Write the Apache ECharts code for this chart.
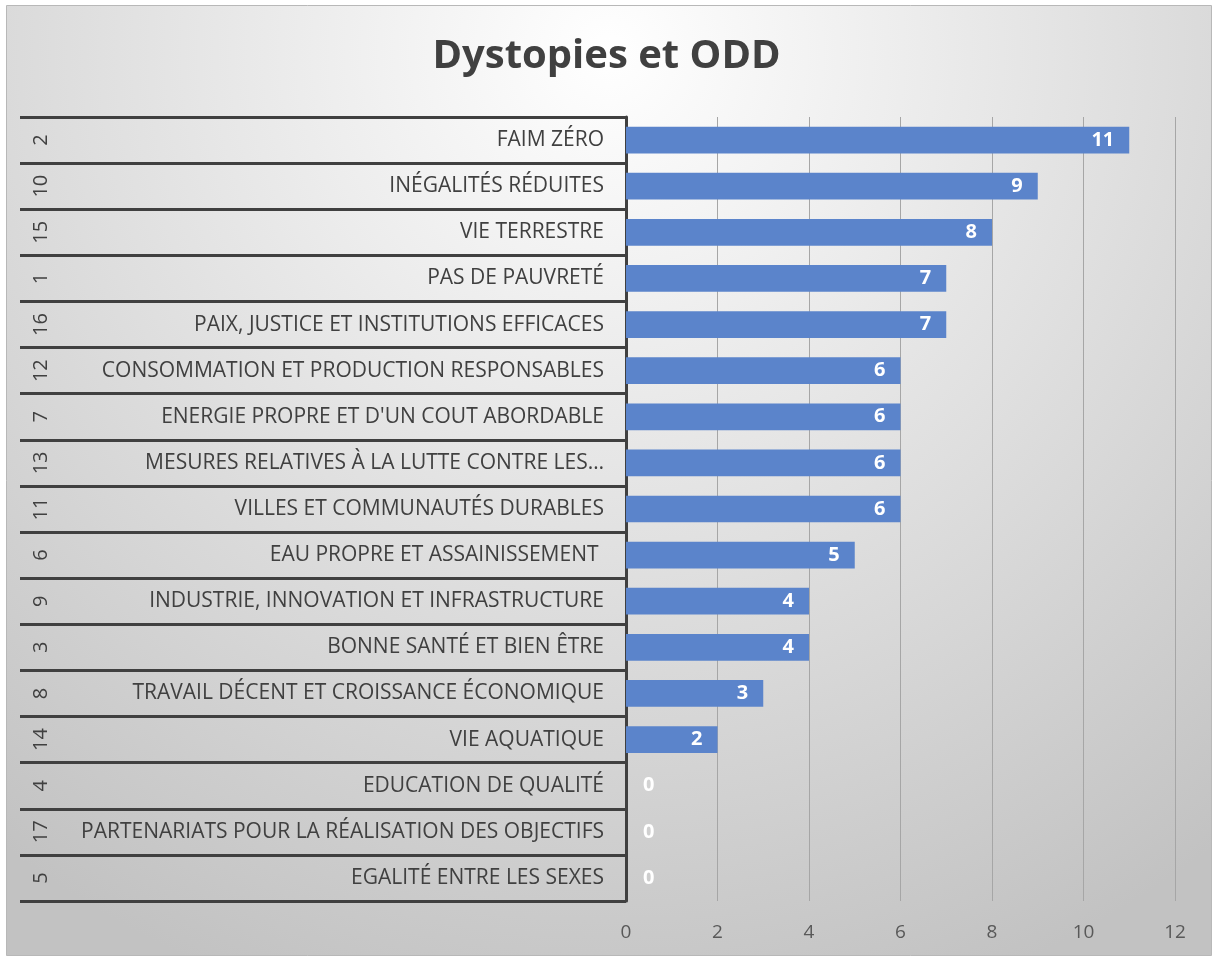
<!DOCTYPE html>
<html><head><meta charset="utf-8">
<script src="https://cdn.jsdelivr.net/npm/echarts@6/dist/echarts.min.js"></script>
<style>html,body{margin:0;padding:0;background:#fff}#c{width:1213px;height:957px}</style>
</head><body><div id="c"></div>
<script>
const odd = ['2','10','15','1','16','12','7','13','11','6','9','3','8','14','4','17','5'];
const names = ['FAIM ZÉRO','INÉGALITÉS RÉDUITES','VIE TERRESTRE','PAS DE PAUVRETÉ','PAIX, JUSTICE ET INSTITUTIONS EFFICACES','CONSOMMATION ET PRODUCTION RESPONSABLES',"ENERGIE PROPRE ET D'UN COUT ABORDABLE",'MESURES RELATIVES À LA LUTTE CONTRE LES…','VILLES ET COMMUNAUTÉS DURABLES','EAU PROPRE ET ASSAINISSEMENT ','INDUSTRIE, INNOVATION ET INFRASTRUCTURE','BONNE SANTÉ ET BIEN ÊTRE','TRAVAIL DÉCENT ET CROISSANCE ÉCONOMIQUE','VIE AQUATIQUE','EDUCATION DE QUALITÉ','PARTENARIATS POUR LA RÉALISATION DES OBJECTIFS','EGALITÉ ENTRE LES SEXES'];
const values = [11,9,8,7,7,6,6,6,6,5,4,4,3,2,0,0,0];
const xTicks = {min:0, max:12, interval:2};

const FONT = 'Open Sans';
const chart = echarts.init(document.getElementById('c'), null, {renderer:'canvas'});
chart.setOption({
  backgroundColor:'#ffffff',
  animation:false,
  title:{text:'Dystopies et ODD', left:'center', top:32,
    textStyle:{fontFamily:FONT, fontSize:40, fontWeight:'bold', color:'#404040'}},
  graphic:[{type:'rect', z:-100, zlevel:0, silent:true,
    shape:{x:6.5, y:5.5, width:1205, height:950},
    style:{stroke:'#b8b8b8', lineWidth:1,
      fill:new echarts.graphic.RadialGradient(0.5,0.05,1.05,[{offset:0,color:'#ffffff'},{offset:1,color:'#c2c2c2'}])}}],
  grid:[
    {left:626, right:38, top:117, bottom:56, outerBoundsMode:'none'},
    {left:20, width:606, top:117, bottom:56, outerBoundsMode:'none'}
  ],
  xAxis:[
    {gridIndex:0, type:'value', min:xTicks.min, max:xTicks.max, interval:xTicks.interval,
      axisLine:{show:false}, axisTick:{show:false},
      splitLine:{show:true, lineStyle:{color:'#a6a6a6', width:1}},
      axisLabel:{fontFamily:FONT, fontSize:19, color:'#595959', margin:22}},
    {gridIndex:1, type:'value', show:false}
  ],
  yAxis:[
    {gridIndex:0, type:'category', data:names, inverse:true,
      axisLine:{show:true, lineStyle:{color:'#404040', width:3}},
      axisTick:{show:false}, splitLine:{show:false},
      axisLabel:{fontFamily:FONT, fontSize:21, color:'#404040', margin:22, interval:0}},
    {gridIndex:0, type:'category', data:odd, inverse:true, position:'left', offset:553,
      axisLine:{show:false}, axisTick:{show:false}, splitLine:{show:false},
      axisLabel:{fontFamily:FONT, fontSize:20, color:'#404040', margin:22, rotate:90, interval:0}},
    {gridIndex:1, type:'category', data:odd, inverse:true,
      axisLine:{show:false}, axisTick:{show:false}, axisLabel:{show:false},
      splitLine:{show:true, interval:0, lineStyle:{color:'#404040', width:3}}}
  ],
  series:[{
    type:'bar', xAxisIndex:0, yAxisIndex:0, barCategoryGap:'42%',
    itemStyle:{color:'#5b84cb'},
    data:values.map(v=>({value:v, label: v===0 ? {position:'right', distance:17} : {}})),
    label:{show:true, position:'insideRight', distance:15, color:'#ffffff', fontWeight:'bold', fontFamily:FONT, fontSize:20}
  }]
});
</script></body></html>
